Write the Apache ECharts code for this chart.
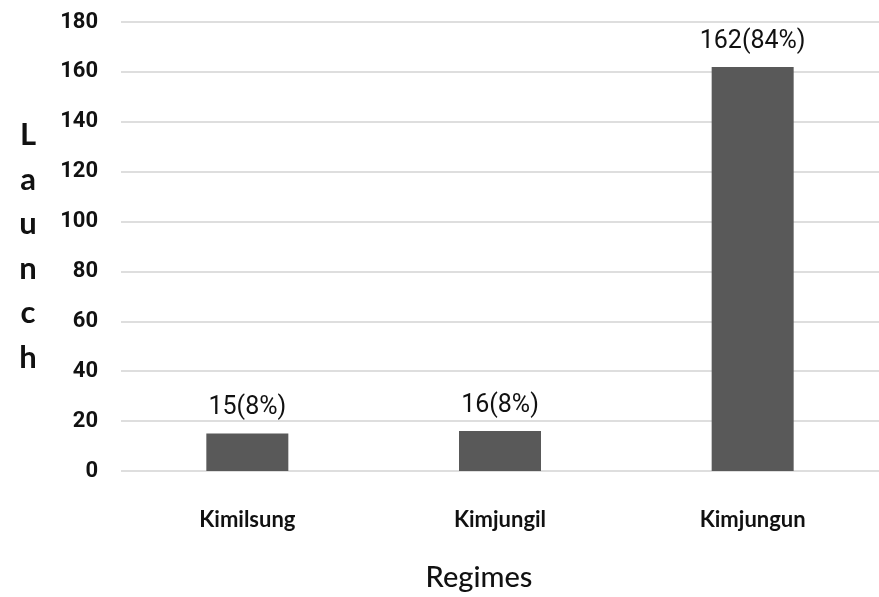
<!DOCTYPE html>
<html>
<head>
<meta charset="utf-8">
<style>
  html, body { margin: 0; padding: 0; background: #ffffff; }
  #chart { width: 879px; height: 597px; }
</style>
<script src="https://cdn.jsdelivr.net/npm/echarts@6/dist/echarts.min.js"></script>
</head>
<body>
<div id="chart"></div>
<script>
// Missile launches per regime
const regimes = ['Kimilsung', 'Kimjungil', 'Kimjungun'];
const launches = [15, 16, 162];
const shares = ['8%', '8%', '84%'];
const yTicks = [0, 20, 40, 60, 80, 100, 120, 140, 160, 180];

const chart = echarts.init(document.getElementById('chart'), null, { renderer: 'canvas' });

chart.setOption({
  animation: false,
  backgroundColor: '#ffffff',
  grid: { left: 121, top: 22, width: 773, height: 452, containLabel: false },
  xAxis: {
    type: 'category',
    data: regimes,
    name: 'Regimes',
    nameLocation: 'middle',
    nameGap: 92,
    nameTextStyle: {
      fontFamily: 'Lato, sans-serif',
      fontWeight: 500,
      fontSize: 29,
      color: '#111111',
      padding: [0, 42, 0, 0]
    },
    axisLine: { show: false },
    axisTick: { show: false },
    axisLabel: {
      margin: 38,
      fontFamily: 'Lato, sans-serif',
      fontWeight: 'bold',
      fontSize: 22,
      color: '#111111'
    }
  },
  yAxis: {
    type: 'value',
    min: yTicks[0],
    max: yTicks[yTicks.length - 1],
    interval: yTicks[1] - yTicks[0],
    name: 'Launch'.split('').join('\n'),
    nameLocation: 'middle',
    nameRotate: 0,
    nameGap: 93,
    nameTextStyle: {
      fontFamily: 'Lato, sans-serif',
      fontWeight: 'bold',
      fontSize: 31,
      lineHeight: 44.5,
      color: '#111111',
      align: 'center',
      verticalAlign: 'middle'
    },
    axisLine: { show: false },
    axisTick: { show: false },
    axisLabel: {
      margin: 23,
      fontFamily: 'Roboto, sans-serif',
      fontWeight: 'bold',
      fontSize: 22,
      color: '#111111'
    },
    splitLine: { lineStyle: { color: '#dedede', width: 2 } }
  },
  series: [{
    type: 'bar',
    data: launches,
    barWidth: 82,
    itemStyle: { color: '#595959' },
    label: {
      show: true,
      position: 'top',
      distance: 13,
      fontFamily: 'Roboto, sans-serif',
      fontSize: 25,
      color: '#111111',
      formatter: (p) => p.value + '(' + shares[p.dataIndex] + ')'
    }
  }]
});
</script>
</body>
</html>
